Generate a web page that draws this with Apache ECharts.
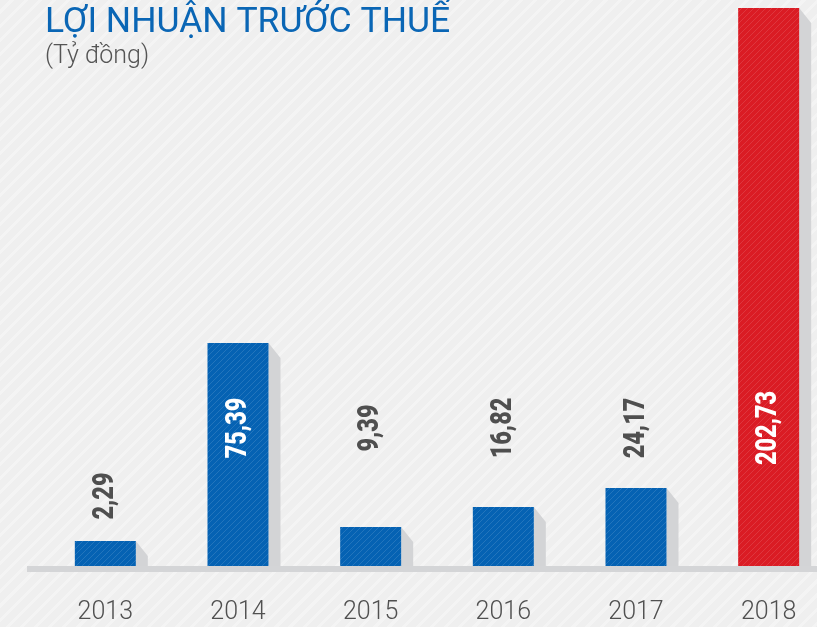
<!DOCTYPE html>
<html>
<head>
<meta charset="utf-8">
<script src="https://cdn.jsdelivr.net/npm/echarts@6/dist/echarts.min.js"></script>
<style>
	html, body {
		margin: 0;
		padding: 0;
		width: 817px;
		height: 627px;
		overflow: hidden;
		background-color: #efefef;
		background-image: repeating-linear-gradient(135deg, #efefef 0px, #efefef 7px, #f4f4f4 7px, #f4f4f4 10px);
	}
	#main {
		width: 817px;
		height: 627px;
	}
</style>
</head>
<body>
<div id="main"></div>
<script>
// years and the printed profit values (ty dong)
var years = ['2013', '2014', '2015', '2016', '2017', '2018'];
var profit = ['2,29', '75,39', '9,39', '16,82', '24,17', '202,73'];
// bar lengths as drawn in the original (not to scale)
var barLength = [25, 223, 39, 59, 78, 558];

// where the rotated value label sits, same units as the bars
var labelLevel = [70, 138, 138, 138, 138, 138];

function hatch(base, line) {
	var c = document.createElement('canvas');
	c.width = 6;
	c.height = 6;
	var ctx = c.getContext('2d');
	ctx.fillStyle = base;
	ctx.fillRect(0, 0, 6, 6);
	ctx.strokeStyle = line;
	ctx.lineWidth = 1;
	ctx.beginPath();
	ctx.moveTo(0, 6); ctx.lineTo(6, 0);
	ctx.moveTo(-3, 3); ctx.lineTo(3, -3);
	ctx.moveTo(3, 9); ctx.lineTo(9, 3);
	ctx.stroke();
	return { image: c, repeat: 'repeat' };
}

var blue = hatch('#0562b3', 'rgba(255,255,255,0.12)');
var red = hatch('#da1c24', 'rgba(255,255,255,0.12)');

var barData = barLength.map(function(v, i) {
	return {
		value: v,
		itemStyle: { color: i == years.length - 1 ? red : blue }
	};
});

var option = {
	animation: false,
	title: {
		text: 'LỢI NHUẬN TRƯỚC THUẾ',
		subtext: '(Tỷ đồng)',
		left: 45,
		top: 5,
		padding: 0,
		itemGap: 3,
		textStyle: {
			fontFamily: 'Roboto',
			fontSize: 35.5,
			fontWeight: 400,
			color: '#0a66b5'
		},
		subtextStyle: {
			fontFamily: 'Roboto',
			fontSize: 25,
			fontWeight: 300,
			color: '#555555'
		}
	},
	graphic: [{
		type: 'rect',
		shape: { x: 27, y: 566, width: 790, height: 6 },
		style: { fill: '#d4d5d7' },
		z: 0
	}],
	grid: {
		left: 39,
		top: 8,
		width: 796,
		bottom: 61,
		containLabel: false,
		outerBoundsMode: 'none'
	},
	xAxis: {
		type: 'category',
		data: years,
		axisLine: { show: false },
		axisTick: { show: false },
		axisLabel: {
			margin: 34,
			fontFamily: 'Roboto',
			fontSize: 25,
			fontWeight: 300,
			color: '#505050'
		}
	},
	yAxis: {
		type: 'value',
		min: 0,
		max: 558,
		show: false
	},
	series: [{
		// grey extrusion on the right side of every bar
		type: 'custom',
		z: 1,
		data: barLength.map(function(v, i) { return [i, v]; }),
		renderItem: function(params, api) {
			var top = api.coord([api.value(0), api.value(1)]);
			var base = api.coord([api.value(0), 0]);
			var right = top[0] + 30.5;
			return {
				type: 'polygon',
				shape: {
					points: [
						[right, top[1]],
						[right + 12, top[1] + 15],
						[right + 12, base[1]],
						[right, base[1]]
					]
				},
				style: { fill: '#d3d4d6' }
			};
		}
	}, {
		type: 'bar',
		z: 2,
		barWidth: 61,
		data: barData
	}, {
		// rotated value labels, squeezed to look condensed
		type: 'custom',
		z: 3,
		data: labelLevel.map(function(v, i) { return [i, v]; }),
		renderItem: function(params, api) {
			var i = params.dataIndex;
			var p = api.coord([api.value(0), api.value(1)]);
			var inside = api.value(1) < barLength[i];
			return {
				type: 'text',
				x: p[0],
				y: p[1],
				rotation: Math.PI / 2,
				scaleX: 0.78,
				style: {
					text: profit[i],
					x: 0,
					y: 0,
					align: 'center',
					verticalAlign: 'middle',
					font: '900 30px Roboto, sans-serif',
					fill: inside ? '#ffffff' : '#4f4f4f'
				}
			};
		}
	}]
};

var my = echarts.init(document.getElementById('main'));
my.setOption(option);
</script>
</body>
</html>
